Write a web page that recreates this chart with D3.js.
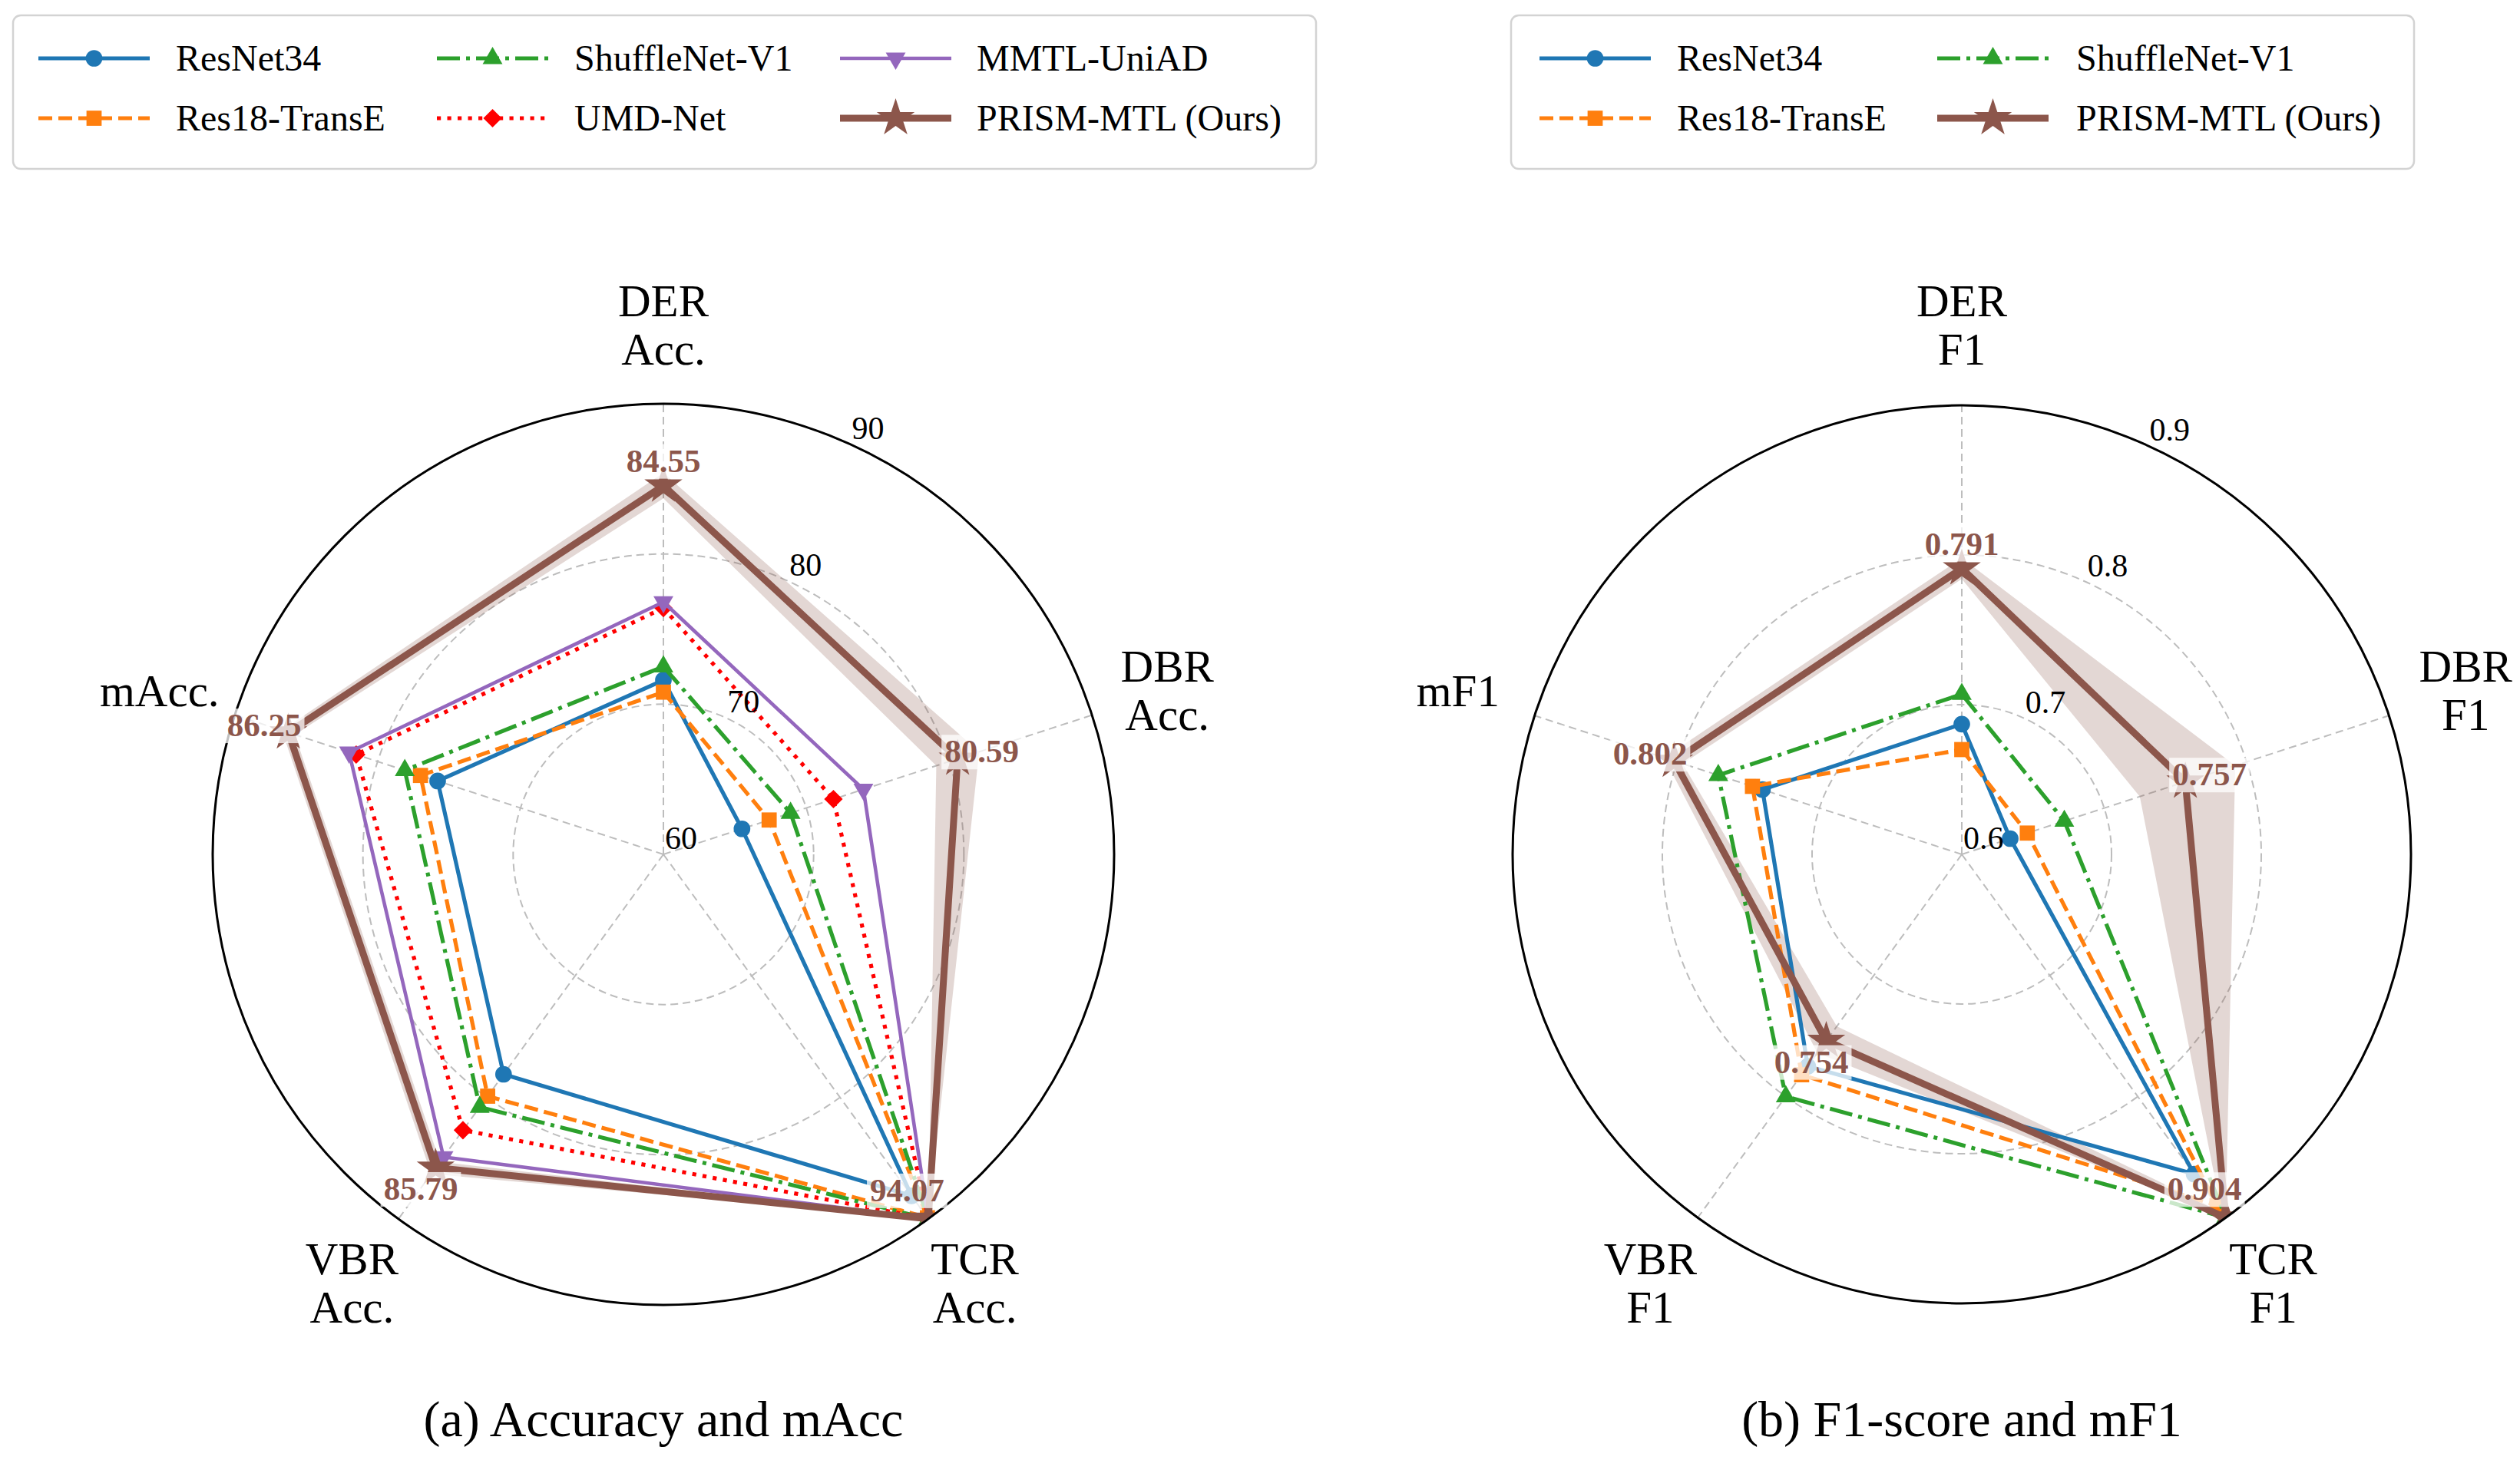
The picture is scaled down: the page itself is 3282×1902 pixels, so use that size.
<!DOCTYPE html>
<html>
<head>
<meta charset="utf-8">
<script src="https://cdn.jsdelivr.net/npm/d3@7"></script>
<style>
  body { margin: 0; background: #fff; }
  svg text { font-family: "Liberation Serif", "Times New Roman", serif; }
</style>
</head>
<body>
<svg id="chart" width="3282" height="1902"></svg>
<script>
// axis names (clockwise from the top)
const accAxes = [['DER', 'Acc.'], ['DBR', 'Acc.'], ['TCR', 'Acc.'], ['VBR', 'Acc.'], ['mAcc.']];
const f1Axes = [['DER', 'F1'], ['DBR', 'F1'], ['TCR', 'F1'], ['VBR', 'F1'], ['mF1']];

const accMethods = ['ResNet34', 'Res18-TransE', 'ShuffleNet-V1', 'UMD-Net', 'MMTL-UniAD', 'PRISM-MTL (Ours)'];
const f1Methods = ['ResNet34', 'Res18-TransE', 'ShuffleNet-V1', 'PRISM-MTL (Ours)'];

// (a) accuracy, order: DER, DBR, TCR, VBR, mAcc
const accResNet34 = [71.6, 65.5, 88.1, 78.1, 75.8];
const accRes18 = [70.8, 67.4, 89.9, 79.9, 77.0];
const accShuffle = [72.5, 68.9, 90.2, 80.8, 78.1];
const accUMD = [76.4, 71.9, 95.0, 82.7, 81.5];
const accMMTL = [76.8, 74.0, 92.3, 84.9, 82.0];
const accPrism = [84.55, 80.59, 94.07, 85.79, 86.25];
const accPrismLow = [83.7, 79.1, 92.6, 85.3, 85.8];
const accPrismHigh = [85.4, 82.1, 95.5, 86.3, 86.7];
const accTicks = [60, 70, 80, 90];

// (b) F1, order: DER, DBR, TCR, VBR, mF1
const f1ResNet34 = [0.687, 0.634, 0.864, 0.775, 0.740];
const f1Res18 = [0.670, 0.646, 0.890, 0.782, 0.747];
const f1Shuffle = [0.707, 0.672, 0.905, 0.800, 0.771];
const f1Prism = [0.791, 0.757, 0.904, 0.754, 0.802];
const f1PrismLow = [0.784, 0.725, 0.895, 0.742, 0.796];
const f1PrismHigh = [0.798, 0.792, 0.913, 0.764, 0.809];
const f1Ticks = [0.6, 0.7, 0.8, 0.9];

const styles = {
  'ResNet34':         { color: '#1f77b4', dash: null, width: 5.2, marker: 'circle' },
  'Res18-TransE':     { color: '#ff7f0e', dash: '18,8', width: 5.2, marker: 'square' },
  'ShuffleNet-V1':    { color: '#2ca02c', dash: '30,8,5,8', width: 5.2, marker: 'triangle' },
  'UMD-Net':          { color: '#ff0000', dash: '5.2,8.3', width: 5.2, marker: 'diamond' },
  'MMTL-UniAD':       { color: '#9467bd', dash: null, width: 4.6, marker: 'triangleDown' },
  'PRISM-MTL (Ours)': { color: '#8c564b', dash: null, width: 9, marker: 'star' }
};

const svg = d3.select('#chart');

function markerShape(type) {
  if (type === 'circle') return { d: d3.symbol(d3.symbolCircle, 370)(), rot: 0 };
  if (type === 'square') return { d: d3.symbol(d3.symbolSquare, 390)(), rot: 0 };
  if (type === 'triangle') return { d: d3.symbol(d3.symbolTriangle, 290)(), rot: 0 };
  if (type === 'triangleDown') return { d: d3.symbol(d3.symbolTriangle, 290)(), rot: 180 };
  if (type === 'diamond') return { d: d3.symbol(d3.symbolSquare, 290)(), rot: 45 };
  return { d: d3.symbol(d3.symbolStar, 760)(), rot: 0 };
}

function drawRadar(opt) {
  const R = opt.R;
  const vmax = opt.domain[1];
  const r = d3.scaleLinear().domain(opt.domain).range([0, R]);
  const ang = d3.scaleLinear().domain([0, opt.axes.length]).range([0, 2 * Math.PI]);
  const clipV = v => Math.min(v, vmax);
  const pos = (v, i) => [r(clipV(v)) * Math.sin(ang(i)), -r(clipV(v)) * Math.cos(ang(i))];

  const g = svg.append('g').attr('transform', 'translate(' + opt.cx + ',' + opt.cy + ')');

  g.append('clipPath').attr('id', opt.id + '-clip')
    .append('circle').attr('r', R);

  // grid rings and spokes
  const grid = g.append('g')
    .attr('fill', 'none').attr('stroke', '#bdbdbd')
    .attr('stroke-width', 2).attr('stroke-dasharray', '10,6');
  grid.selectAll('circle').data(opt.ticks.slice(1)).enter().append('circle')
    .attr('r', d => r(d));
  grid.selectAll('line').data(opt.axes).enter().append('line')
    .attr('x1', 0).attr('y1', 0)
    .attr('x2', (d, i) => R * Math.sin(ang(i)))
    .attr('y2', (d, i) => -R * Math.cos(ang(i)));

  const plot = g.append('g').attr('clip-path', 'url(#' + opt.id + '-clip)');

  const lineR = d3.lineRadial()
    .angle((d, i) => ang(i))
    .radius(d => r(clipV(d)))
    .curve(d3.curveLinearClosed);

  // shaded band round our method
  plot.append('path')
    .attr('d', lineR(opt.bandHigh) + lineR(opt.bandLow))
    .attr('fill', '#8c564b').attr('fill-opacity', 0.24)
    .attr('fill-rule', 'evenodd');

  opt.names.forEach(function(name, k) {
    const st = styles[name];
    const vals = opt.series[k];
    plot.append('path')
      .attr('d', lineR(vals))
      .attr('fill', 'none')
      .attr('stroke', st.color)
      .attr('stroke-width', st.width)
      .attr('stroke-linejoin', 'round')
      .attr('stroke-dasharray', st.dash);
    const m = markerShape(st.marker);
    plot.selectAll(null).data(vals).enter().append('path')
      .attr('d', m.d)
      .attr('transform', (d, i) => 'translate(' + pos(d, i) + ') rotate(' + m.rot + ')')
      .attr('fill', st.color);
  });

  // outer circle
  g.append('circle').attr('r', R)
    .attr('fill', 'none').attr('stroke', '#000').attr('stroke-width', 3);

  // ring labels
  const la = 24.5 * Math.PI / 180;
  g.selectAll('text.tick').data(opt.ticks).enter().append('text')
    .attr('class', 'tick')
    .attr('x', d => r(d) * Math.sin(la) + 2)
    .attr('y', d => -r(d) * Math.cos(la) - 7)
    .attr('font-size', 42)
    .attr('fill', '#000')
    .text(d => d);

  // axis labels
  const labR = 690;
  opt.axes.forEach(function(lines, i) {
    const x = labR * Math.sin(ang(i)), y = -labR * Math.cos(ang(i));
    const t = g.append('text').attr('text-anchor', 'middle').attr('font-size', 59).attr('fill', '#000');
    const y0 = y - (lines.length - 1) * 31.5 + 20;
    lines.forEach(function(s, j) {
      t.append('tspan').attr('x', x).attr('y', y0 + j * 63).text(s);
    });
  });

  // value labels of our method
  const ours = opt.series[opt.series.length - 1];
  ours.forEach(function(v, i) {
    const rl = v >= vmax ? R - 47 : r(v) + 33;
    const x = rl * Math.sin(ang(i)), y = -rl * Math.cos(ang(i));
    const lg = g.append('g');
    const bg = lg.append('rect').attr('fill', '#fff').attr('fill-opacity', 0.75);
    const t = lg.append('text')
      .attr('x', x).attr('y', y + 15)
      .attr('text-anchor', 'middle')
      .attr('font-size', 43).attr('font-weight', 'bold')
      .attr('fill', '#8c564b')
      .text(opt.fmt(v));
    const bb = t.node().getBBox();
    bg.attr('x', bb.x - 4).attr('y', bb.y + 2).attr('width', bb.width + 8).attr('height', bb.height - 2);
  });

  // caption
  svg.append('text')
    .attr('x', opt.cx).attr('y', 1871)
    .attr('text-anchor', 'middle').attr('font-size', 66).attr('fill', '#000')
    .text(opt.caption);
}

function drawLegend(names, box, handleX, textX) {
  const rowY = [76, 154];
  const g = svg.append('g');
  g.append('rect')
    .attr('x', box[0]).attr('y', box[1])
    .attr('width', box[2] - box[0]).attr('height', box[3] - box[1])
    .attr('rx', 10).attr('fill', '#fff')
    .attr('stroke', '#d3d3d3').attr('stroke-width', 2.5);
  names.forEach(function(name, i) {
    const st = styles[name];
    const c = Math.floor(i / 2), y = rowY[i % 2];
    const x0 = handleX[c];
    g.append('line')
      .attr('x1', x0).attr('x2', x0 + 145).attr('y1', y).attr('y2', y)
      .attr('stroke', st.color).attr('stroke-width', st.width)
      .attr('stroke-dasharray', st.dash);
    const m = markerShape(st.marker);
    g.append('path').attr('d', m.d)
      .attr('transform', 'translate(' + (x0 + 72.5) + ',' + y + ') rotate(' + m.rot + ')')
      .attr('fill', st.color);
    g.append('text')
      .attr('x', textX[c]).attr('y', y + 16)
      .attr('font-size', 48).attr('fill', '#000')
      .text(name);
  });
}

drawRadar({
  id: 'acc', cx: 864, cy: 1113, R: 587,
  domain: [60, 90], ticks: accTicks, axes: accAxes,
  names: accMethods,
  series: [accResNet34, accRes18, accShuffle, accUMD, accMMTL, accPrism],
  bandLow: accPrismLow, bandHigh: accPrismHigh,
  fmt: d3.format('.2f'),
  caption: '(a) Accuracy and mAcc'
});

drawRadar({
  id: 'f1', cx: 2555, cy: 1113, R: 585,
  domain: [0.6, 0.9], ticks: f1Ticks, axes: f1Axes,
  names: f1Methods,
  series: [f1ResNet34, f1Res18, f1Shuffle, f1Prism],
  bandLow: f1PrismLow, bandHigh: f1PrismHigh,
  fmt: d3.format('.3f'),
  caption: '(b) F1-score and mF1'
});

drawLegend(accMethods, [17, 20, 1714, 220], [50, 569, 1094], [229, 748, 1272]);
drawLegend(f1Methods, [1968, 20, 3144, 220], [2005, 2523], [2184, 2704]);
</script>
</body>
</html>
